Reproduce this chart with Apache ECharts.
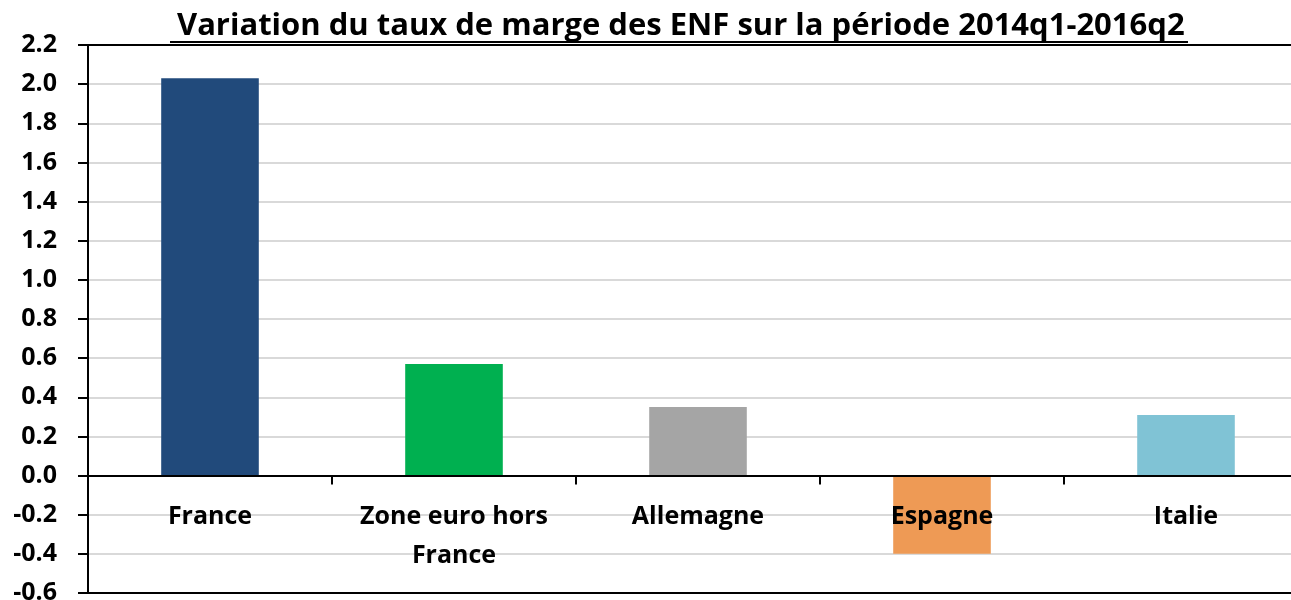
<!DOCTYPE html>
<html>
<head>
<meta charset="utf-8">
<script src="https://cdn.jsdelivr.net/npm/echarts@6/dist/echarts.min.js"></script>
<style>
    html, body { margin: 0; padding: 0; background: #fff; }
    #chart { width: 1291px; height: 600px; }
</style>
</head>
<body>
<div id="chart"></div>
<script>
var categories = ["France", "Zone euro hors\nFrance", "Allemagne", "Espagne", "Italie"];
var values = [2.03, 0.57, 0.35, -0.40, 0.31];
var barColors = ["#214A7B", "#00B050", "#A5A5A5", "#EE9A55", "#80C3D5"];
var titleText = "Variation du taux de marge des ENF sur la période 2014q1-2016q2";

var font = "'Open Sans', sans-serif";
var myChart = echarts.init(document.getElementById("chart"));

var seriesData = values.map(function (v, i) {
    return { value: v, itemStyle: { color: barColors[i] } };
});

var option = {
    animation: false,
    title: {
        text: titleText,
        left: 172,
        top: 6,
        textStyle: { fontFamily: font, fontWeight: "bold", fontSize: 31, color: "#000" }
    },
    graphic: [
        {
            type: "rect",
            shape: { x: 170, y: 41, width: 1018, height: 2 },
            style: { fill: "#000" }
        }
    ],
    grid: {
        left: 88, top: 45, bottom: 7, right: -17,
        containLabel: false,
        outerBoundsMode: "none",
        show: true, borderColor: "#000", borderWidth: 2
    },
    xAxis: [
        {
            type: "category",
            data: categories,
            z: 10,
            axisLine: { onZero: true, lineStyle: { color: "#000", width: 2 } },
            axisTick: { show: true, interval: 0, length: 9, lineStyle: { color: "#000", width: 2 } },
            axisLabel: { show: false }
        },
        {
            // labels only, lifted up to the zero line
            type: "category",
            data: categories,
            position: "bottom",
            offset: -117,
            z: 10,
            axisLine: { show: false },
            axisTick: { show: false },
            axisLabel: {
                interval: 0,
                margin: 21,
                fontFamily: font, fontWeight: "bold", fontSize: 25, color: "#000",
                lineHeight: 39
            }
        }
    ],
    yAxis: {
        type: "value",
        min: -0.6,
        max: 2.2,
        interval: 0.2,
        axisLine: { show: true, lineStyle: { color: "#000", width: 2 } },
        axisTick: { show: true, length: 10, lineStyle: { color: "#000", width: 2 } },
        splitLine: { showMinLine: false, showMaxLine: false, lineStyle: { color: "#D9D9D9", width: 2 } },
        axisLabel: {
            margin: 31,
            fontFamily: font, fontWeight: "bold", fontSize: 25, color: "#000",
            formatter: function (v) { return v.toFixed(1); }
        }
    },
    series: [
        {
            type: "bar",
            data: seriesData,
            barWidth: "40%"
        }
    ]
};

myChart.setOption(option);
</script>
</body>
</html>
